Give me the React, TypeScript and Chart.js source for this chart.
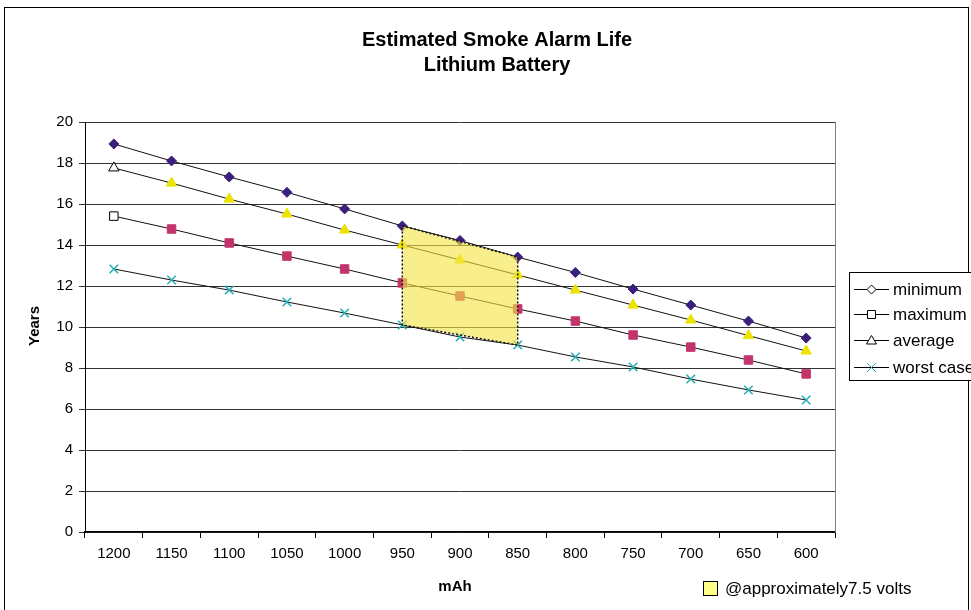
import React, { useEffect, useRef } from "react";
import { Chart, registerables } from "chart.js";

Chart.register(...registerables);

const categories = ["1200", "1150", "1100", "1050", "1000", "950", "900", "850", "800", "750", "700", "650", "600"];
const minimum = [18.93, 18.1, 17.32, 16.57, 15.76, 14.93, 14.22, 13.41, 12.66, 11.85, 11.07, 10.29, 9.46];
const maximum = [15.41, 14.78, 14.1, 13.46, 12.83, 12.15, 11.51, 10.88, 10.29, 9.61, 9.02, 8.39, 7.71];
const average = [17.76, 17.02, 16.24, 15.51, 14.73, 14.0, 13.27, 12.54, 11.8, 11.07, 10.34, 9.58, 8.83];
const worstCase = [12.83, 12.29, 11.8, 11.22, 10.68, 10.1, 9.51, 9.12, 8.54, 8.05, 7.46, 6.93, 6.44];
const seriesNames = ["minimum", "maximum", "average", "worst case"];
const titleLines = ["Estimated Smoke Alarm Life", "Lithium Battery"];
const xTitle = "mAh";
const yTitle = "Years";
const regionFrom = "950";
const regionTo = "850";
const regionLabel = "@approximately7.5 volts";

const FONT = "'Liberation Sans', Arial, Helvetica, sans-serif";
const C_MIN = "#3b1f7c";
const C_MAX = "#c3346c";
const C_AVG = "#ece300";
const C_WORST = "#22adb3";

function pointColors(n: number, c: string, firstFill: string, firstBorder: string) {
  const bg: string[] = [];
  const bd: string[] = [];
  for (let i = 0; i < n; i++) {
    bg.push(i === 0 ? firstFill : c);
    bd.push(i === 0 ? firstBorder : c);
  }
  return { bg, bd };
}

function drawMarker(ctx: CanvasRenderingContext2D, kind: string, x: number, y: number) {
  ctx.save();
  ctx.lineWidth = 1;
  ctx.strokeStyle = "#000";
  ctx.fillStyle = "#fff";
  ctx.beginPath();
  if (kind === "diamond") {
    ctx.moveTo(x, y - 4.5);
    ctx.lineTo(x + 4.5, y);
    ctx.lineTo(x, y + 4.5);
    ctx.lineTo(x - 4.5, y);
    ctx.closePath();
    ctx.fill();
    ctx.stroke();
  } else if (kind === "square") {
    ctx.rect(x - 4, y - 4, 8, 8);
    ctx.fill();
    ctx.stroke();
  } else if (kind === "triangle") {
    ctx.moveTo(x, y - 5);
    ctx.lineTo(x + 5, y + 3.5);
    ctx.lineTo(x - 5, y + 3.5);
    ctx.closePath();
    ctx.fill();
    ctx.stroke();
  } else {
    ctx.strokeStyle = C_WORST;
    ctx.moveTo(x - 4.5, y - 4.5);
    ctx.lineTo(x + 4.5, y + 4.5);
    ctx.moveTo(x + 4.5, y - 4.5);
    ctx.lineTo(x - 4.5, y + 4.5);
    ctx.stroke();
  }
  ctx.restore();
}

const decorPlugin = {
  id: "decor",
  beforeDraw(chart: any) {
    const ctx = chart.ctx as CanvasRenderingContext2D;
    ctx.save();
    ctx.fillStyle = "#fff";
    ctx.fillRect(0, 0, chart.width, chart.height);
    ctx.strokeStyle = "#000";
    ctx.lineWidth = 1;
    ctx.strokeRect(4.5, 7.5, 964, 620);
    ctx.restore();
  },
  afterDatasetsDraw(chart: any) {
    const ctx = chart.ctx as CanvasRenderingContext2D;
    const xs = chart.scales.x;
    const ys = chart.scales.y;
    const i1 = categories.indexOf(regionFrom);
    const i2 = categories.indexOf(regionTo);
    const pts = [
      [i1, minimum[i1]],
      [i2, minimum[i2]],
      [i2, worstCase[i2]],
      [i1, worstCase[i1]],
    ].map(([i, v]) => [xs.getPixelForValue(i), ys.getPixelForValue(v)]);
    ctx.save();
    ctx.beginPath();
    pts.forEach(([px, py], k) => (k === 0 ? ctx.moveTo(px, py) : ctx.lineTo(px, py)));
    ctx.closePath();
    ctx.fillStyle = "rgba(243, 228, 70, 0.62)";
    ctx.fill();
    ctx.setLineDash([2, 2]);
    ctx.lineWidth = 1.5;
    ctx.strokeStyle = "#111";
    ctx.stroke();
    ctx.restore();
  },
  afterDraw(chart: any) {
    const ctx = chart.ctx as CanvasRenderingContext2D;
    const area = chart.chartArea;
    ctx.save();
    // plot right border
    ctx.strokeStyle = "#808080";
    ctx.lineWidth = 1;
    ctx.beginPath();
    ctx.moveTo(Math.round(area.right) + 0.5, area.top);
    ctx.lineTo(Math.round(area.right) + 0.5, area.bottom);
    ctx.stroke();

    // titles
    ctx.fillStyle = "#000";
    ctx.textAlign = "center";
    ctx.textBaseline = "middle";
    ctx.font = `bold 20px ${FONT}`;
    ctx.fillText(titleLines[0], 497, 40);
    ctx.fillText(titleLines[1], 497, 65);

    ctx.font = `bold 15px ${FONT}`;
    ctx.fillText(xTitle, (area.left + area.right) / 2 - 5, 587);
    ctx.save();
    ctx.translate(35, 326);
    ctx.rotate(-Math.PI / 2);
    ctx.fillText(yTitle, 0, 0);
    ctx.restore();

    // series legend
    ctx.fillStyle = "#fff";
    ctx.fillRect(849.5, 272.5, 140, 108);
    ctx.strokeStyle = "#000";
    ctx.lineWidth = 1;
    ctx.strokeRect(849.5, 272.5, 140, 108);
    const rows = [289, 314, 340, 367];
    const kinds = ["diamond", "square", "triangle", "x"];
    ctx.font = `17px ${FONT}`;
    ctx.textAlign = "left";
    rows.forEach((ry, k) => {
      ctx.strokeStyle = "#000";
      ctx.beginPath();
      ctx.moveTo(854, ry + 0.5);
      ctx.lineTo(889, ry + 0.5);
      ctx.stroke();
      drawMarker(ctx, kinds[k], 871.5, ry + 0.5);
      ctx.fillStyle = "#000";
      ctx.fillText(seriesNames[k], 893, ry + 1);
    });

    // region legend
    ctx.fillStyle = "#ffff88";
    ctx.fillRect(703.5, 581.5, 14, 14);
    ctx.strokeStyle = "#000";
    ctx.strokeRect(703.5, 581.5, 14, 14);
    ctx.fillStyle = "#000";
    ctx.fillText(regionLabel, 725, 589);
    ctx.restore();
  },
};

export default function App() {
  const ref = useRef<HTMLCanvasElement | null>(null);
  useEffect(() => {
    if (!ref.current) return;
    const maxCols = pointColors(categories.length, C_MAX, "#fff", "#000");
    const avgCols = pointColors(categories.length, C_AVG, "#fff", "#000");
    const line = "#111";
    const chart = new Chart(ref.current, {
      type: "line",
      data: {
        labels: categories,
        datasets: [
          {
            label: seriesNames[0],
            data: minimum,
            borderColor: line,
            borderWidth: 1,
            pointStyle: "rectRot",
            pointRadius: 5,
            pointBackgroundColor: C_MIN,
            pointBorderColor: C_MIN,
            pointBorderWidth: 1,
            tension: 0,
          },
          {
            label: seriesNames[1],
            data: maximum,
            borderColor: line,
            borderWidth: 1,
            pointStyle: "rect",
            pointRadius: 6,
            pointBackgroundColor: maxCols.bg,
            pointBorderColor: maxCols.bd,
            pointBorderWidth: 1,
            tension: 0,
          },
          {
            label: seriesNames[2],
            data: average,
            borderColor: line,
            borderWidth: 1,
            pointStyle: "triangle",
            pointRadius: 6,
            pointBackgroundColor: avgCols.bg,
            pointBorderColor: avgCols.bd,
            pointBorderWidth: 1,
            tension: 0,
          },
          {
            label: seriesNames[3],
            data: worstCase,
            borderColor: line,
            borderWidth: 1,
            pointStyle: "crossRot",
            pointRadius: 6,
            pointBackgroundColor: C_WORST,
            pointBorderColor: C_WORST,
            pointBorderWidth: 1.5,
            tension: 0,
          },
        ],
      },
      options: {
        animation: false,
        responsive: false,
        devicePixelRatio: 1,
        layout: { padding: { top: 122, right: 136, left: 0, bottom: 0 } },
        plugins: {
          legend: { display: false },
          title: { display: false },
          tooltip: { enabled: false },
        },
        scales: {
          x: {
            type: "category",
            offset: true,
            grid: {
              offset: true,
              drawOnChartArea: false,
              drawTicks: true,
              tickLength: 6,
              color: "#000",
            },
            border: { display: true, color: "#000", width: 1.5 },
            ticks: {
              color: "#000",
              font: { size: 15, family: FONT },
              padding: 7,
              maxRotation: 0,
              autoSkip: false,
            },
            afterFit: (s: any) => {
              s.height = 78;
            },
          },
          y: {
            min: 0,
            max: 20,
            ticks: {
              stepSize: 2,
              color: "#000",
              font: { size: 15, family: FONT },
              padding: 6,
            },
            grid: { color: "#333", tickLength: 6, drawTicks: true },
            border: { display: true, color: "#000" },
            afterFit: (s: any) => {
              s.width = 85;
            },
          },
        },
      },
      plugins: [decorPlugin],
    } as any);
    return () => chart.destroy();
  }, []);
  return (
    <div style={{ position: "absolute", left: 0, top: 0, width: 971, height: 610 }}>
      <canvas ref={ref} width={971} height={610} style={{ width: 971, height: 610, display: "block" }} />
    </div>
  );
}
